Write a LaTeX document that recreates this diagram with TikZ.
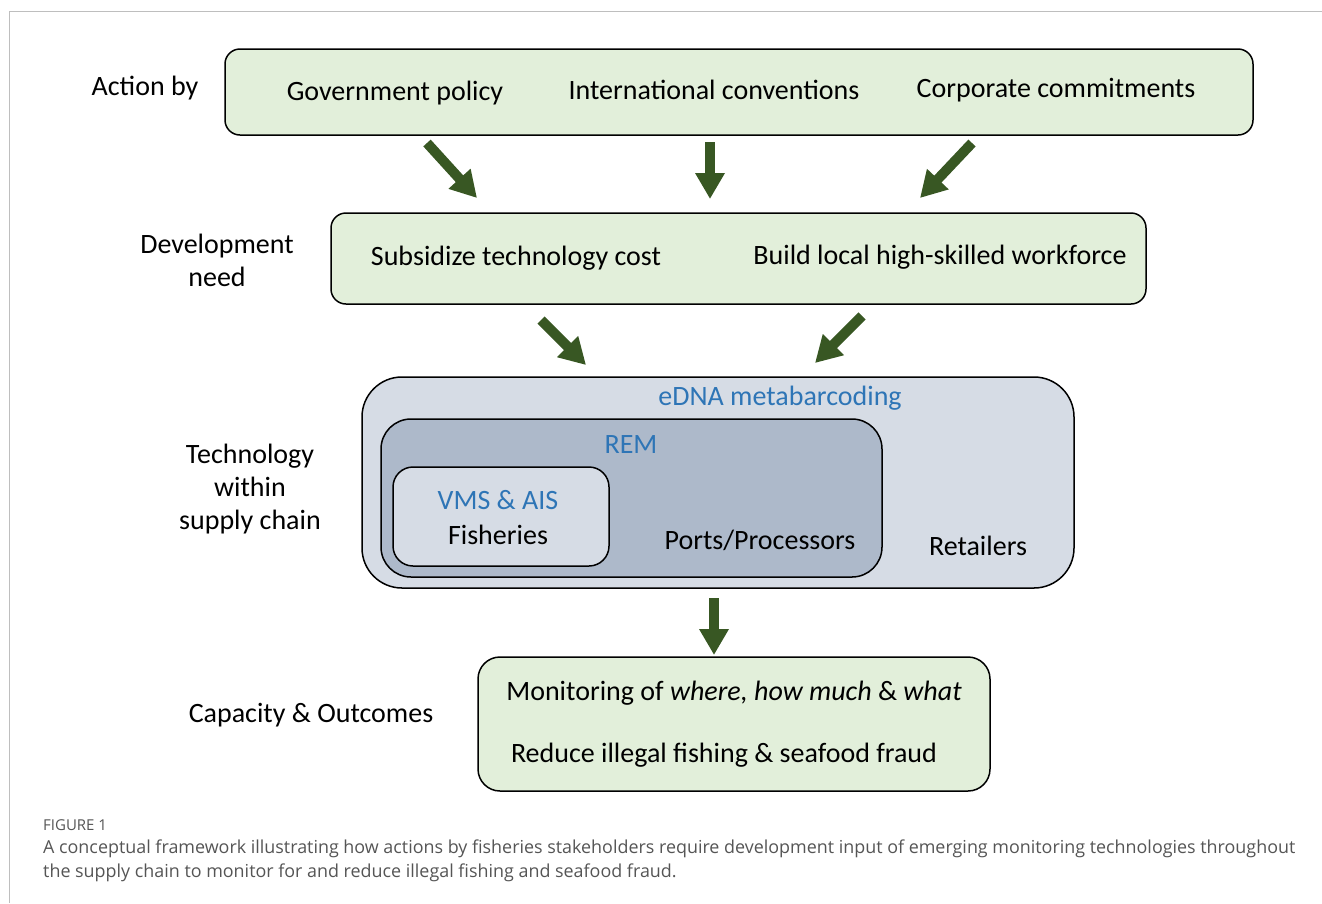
\documentclass[tikz,border=0pt]{standalone}
\usepackage{fontspec}
\setmainfont{Carlito}
\newfontfamily\capfont{Open Sans}
\usetikzlibrary{arrows.meta}

\definecolor{boxgreen}{RGB}{226,239,218}
\definecolor{techouter}{RGB}{214,220,229}
\definecolor{techrem}{RGB}{173,185,202}
\definecolor{techblue}{RGB}{46,117,182}
\definecolor{arrowgreen}{RGB}{56,87,35}
\definecolor{framegray}{RGB}{190,190,190}
\definecolor{capgray}{RGB}{85,85,85}

\tikzset{
  box/.style={draw=black, line width=1.5pt, rounded corners=#1, inner sep=0pt},
  greenbox/.style={box=15pt, fill=boxgreen},
  bigarrow/.style={arrowgreen, line width=10pt, -{Triangle[width=28pt,length=26pt]}},
  txt/.style={inner sep=0pt, align=center},
  bluetxt/.style={txt, text=techblue},
  captxt/.style={anchor=base west, inner sep=0pt, text=capgray, font=\capfont\fontsize{17.9}{24}\selectfont},
}

\begin{document}
\begin{tikzpicture}[x=1pt, y=-1pt, font=\fontsize{28}{33}\selectfont]
    \useasboundingbox (0,0) rectangle (1322,903);

    % frame of the figure
    \draw[framegray, line width=1pt] (9,903) -- (9,11) -- (1322,11);

    % Action by
    \node[greenbox, minimum width=1028pt, minimum height=86pt] (action) at (739,92) {};
    \node[txt] (actionlbl) at (145,88) {Action by};
    \node[txt] (gov) at (395,93) {Government policy};
    \node[txt] (intl) at (714,90) {International conventions};
    \node[txt] (corp) at (1056,90) {Corporate commitments};

    % Development need
    \node[greenbox, minimum width=815pt, minimum height=91pt] (dev) at (738.5,258.5) {};
    \node[txt] (devlbl) at (217,260) {Development\\need};
    \node[txt] (subs) at (516,258) {Subsidize technology cost};
    \node[txt] (build) at (940,257) {Build local high-skilled workforce};

    % Technology within supply chain
    \node[box=40pt, fill=techouter, minimum width=712pt, minimum height=211pt] (edna) at (718,482.5) {};
    \node[box=30pt, fill=techrem, minimum width=501pt, minimum height=158pt] (rem) at (631.5,498) {};
    \node[box=20pt, fill=techouter, minimum width=216pt, minimum height=99pt] (vms) at (501,516.5) {};
    \node[bluetxt] (ednalbl) at (780,398) {eDNA metabarcoding};
    \node[bluetxt] (remlbl) at (631,445) {REM};
    \node[bluetxt] (vmslbl) at (498,500) {VMS \& AIS};
    \node[txt] (fish) at (498,535) {Fisheries};
    \node[txt] (ports) at (760,540) {Ports/Processors};
    \node[txt] (retail) at (978,546) {Retailers};
    \node[txt] (techlbl) at (250,489) {Technology\\within\\supply chain};

    % Capacity & Outcomes
    \node[box=22pt, fill=boxgreen, minimum width=512pt, minimum height=134pt] (cap) at (734,724) {};
    \node[txt] (caplbl) at (311,715) {Capacity \& Outcomes};
    \node[txt] (monit) at (734,693) {Monitoring of \textit{where, how much} \& \textit{what}};
    \node[txt] (reduce) at (724,755) {Reduce illegal fishing \& seafood fraud};

    % arrows between the levels
    \coordinate (a1s) at (427,143); \coordinate (a1e) at (477,198);
    \coordinate (a2s) at (710,142); \coordinate (a2e) at (710,199);
    \coordinate (a3s) at (972,143); \coordinate (a3e) at (920,198);
    \coordinate (a4s) at (541,320); \coordinate (a4e) at (586,365);
    \coordinate (a5s) at (862,316); \coordinate (a5e) at (815,363);
    \coordinate (a6s) at (714,598); \coordinate (a6e) at (714,655);
    \foreach \s/\e in {a1s/a1e, a2s/a2e, a3s/a3e, a4s/a4e, a5s/a5e, a6s/a6e}
      \draw[bigarrow] (\s) -- (\e);

    % caption
    \node[captxt, font=\capfont\fontsize{15}{18}\selectfont] (figlbl) at (43,830) {FIGURE 1};
    \node[captxt] (cap1) at (43,853) {A conceptual framework illustrating how actions by fisheries stakeholders require development input of emerging monitoring technologies throughout};
    \node[captxt] (cap2) at (43,877) {the supply chain to monitor for and reduce illegal fishing and seafood fraud.};
\end{tikzpicture}
\end{document}
